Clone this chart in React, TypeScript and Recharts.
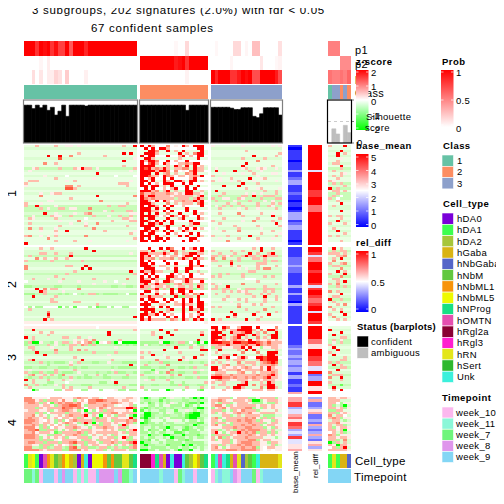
import React from 'react';
import { ScatterChart, Scatter, XAxis, YAxis, BarChart, Bar, Cell, ReferenceLine } from 'recharts';

// sample counts per subgroup (last one = ambiguous samples)
const groupSizes = [30, 18, 19, 6];

const probP1 = [
  [1, 1, 1, .8, 1, .95, 1, .8, .95, .75, .75, 1, .65, 1, 1, 1, .85, 1, 1, 1, 1, 1, 1, 1, 1, 1, 1, 1, 1, 1],
  [0, 0, 0, 0, 0, 0, 0, 0, 0, .03, 0, 0, .15, 0, 0, 0, 0, 0],
  [0, .03, 0, 0, 0, 0, .15, .15, 0, .04, 0, .25, .25, 0, 0, 0, 0, 0, .12],
  [.5, .5, .5, 0, 0, 0],
];
const probP2 = [
  [0, 0, 0, 0, .04, 0, .07, 0, 0, 0, 0, 0, 0, 0, 0, 0, 0, 0, 0, 0, 0, 0, 0, 0, 0, 0, 0, 0, 0, 0],
  [1, 1, 1, 1, 1, 1, 1, 1, 1, .9, .95, 1, .8, 1, 1, 1, 1, 1],
  [0, 0, 0, 0, 0, .04, 0, 0, 0, 0, 0, 0, 0, .1, 0, 0, 0, .03, .05],
  [0, 0, 0, .45, .45, .45],
];
const probP3 = [
  [0, 0, .13, 0, .1, 0, .07, .07, .17, .12, 0, .2, 0, 0, 0, 0, .06, 0, 0, 0, 0, 0, 0, 0, 0, 0, 0, 0, 0, 0],
  [0, 0, 0, 0, 0, 0, 0, 0, 0, 0, 0, 0, .05, 0, 0, 0, 0, 0],
  [1, .85, 1, 1, 1, .8, .8, .9, 1, .95, 1, .7, .7, 1, 1, 1, 1, .9, .7],
  [.55, .5, .5, .55, .5, .6],
];
const classLabels = [
  Array(30).fill(1),
  Array(18).fill(2),
  Array(19).fill(3),
  [1, 3, 3, 2, 3, 2],
];
const silhouette = [
  [.88, .88, .8, .88, .82, .88, .76, .83, .65, .74, .88, .62, .88, .88, .88, .88, .86, .88, .88, .88, .88, .88, .88, .88, .88, .88, .88, .88, .88, .88],
  [.88, .88, .88, .88, .88, .88, .88, .88, .88, .88, .88, .88, .76, .88, .88, .88, .88, .88],
  [.83, .83, .83, .83, .83, .81, .78, .78, .82, .82, .82, .62, .59, .68, .82, .82, .82, .82, .65],
  [0, .33, .21, 0, .41, .24],
];
const cellTypes = [
  ['hDA1', 'hRN', 'hNbML5', 'hDA1', 'hDA0', 'hOMTN', 'hNbML1', 'hRN', 'hNbM', 'hDA2', 'hNbML1', 'hNbML5', 'hGaba', 'hDA2', 'hDA0', 'hGaba', 'Unk', 'hDA0', 'hNbML5', 'hNbML5', 'hNbML5', 'hNbML1', 'hNbM', 'hNbML1', 'hNbM', 'hNbM', 'hRN', 'hRN', 'hNbM', 'hNProg'],
  ['hRgl2a', 'hRgl2a', 'hRgl2a', 'hRgl3', 'hNProg', 'hOMTN', 'hGaba', 'hDA0', 'Unk', 'hDA0', 'hDA0', 'Unk', 'hNbM', 'hDA2', 'hNbML5', 'hGaba', 'hNbM', 'hNProg'],
  ['hDA1', 'Unk', 'hOMTN', 'Unk', 'hNProg', 'hGaba', 'hOMTN', 'hRN', 'hNbGaba', 'hDA2', 'hNbM', 'hDA1', 'Unk', 'hGaba', 'hGaba', 'hGaba', 'hGaba', 'hGaba', 'hRN'],
  ['hDA1', 'hRN', 'hDA1', 'hGaba', 'hGaba', 'hNbGaba'],
];
const timepoints = [
  ['week_7', 'week_7', 'week_11', 'week_7', 'week_10', 'week_9', 'week_9', 'week_9', 'week_10', 'week_9', 'week_8', 'week_9', 'week_9', 'week_10', 'week_11', 'week_10', 'week_11', 'week_10', 'week_10', 'week_9', 'week_8', 'week_8', 'week_8', 'week_8', 'week_9', 'week_8', 'week_7', 'week_7', 'week_11', 'week_9'],
  ['week_9', 'week_9', 'week_9', 'week_9', 'week_9', 'week_11', 'week_9', 'week_9', 'week_9', 'week_10', 'week_7', 'week_11', 'week_9', 'week_9', 'week_10', 'week_9', 'week_9', 'week_9'],
  ['week_10', 'week_11', 'week_9', 'week_11', 'week_11', 'week_9', 'week_8', 'week_10', 'week_9', 'week_9', 'week_9', 'week_7', 'week_10', 'week_11', 'week_9', 'week_9', 'week_9', 'week_9', 'week_9'],
  ['week_9', 'week_9', 'week_9', 'week_9', 'week_9', 'week_9'],
];

// heatmap rows: first char = row base level, then one char per sample, _ = base, spaces ignored, rest of row = base
const heatC1G1 = [
  '. ___q_ ___q_ _pp_p _____ _____ _q__R',
  ',',
  '.',
  '. _____ _____ ____q _____ _____ _R_R_',
  '. _____ _R__R __s__ _____ _q___ ',
  ', _____ ____t _____ _____ _____ ____p',
  '. _____ _____ _____ _____ _____ _R___',
  '. _____ s__q_',
  '. _____ _____ _____ _____ _____ _q___',
  ': __pq_ ____q ___qp Rqq_p _____ ____q',
  ', _p___ _____ _____ _____ _____ ___p_',
  '. _____ _____ _____ ____R _____ _____',
  ', _____ p____ _w___ _____ ____w ____w',
  '. _____ ___q_ _____ ___p_ _____ _____',
  '. _qqq_ _____ _p_q_ _____ _____ ___p_',
  '. q____ _____ _____ _____ _____ qqq__',
  '. p____ _____ _ss_q _____ _____ __q__',
  ', _____ _____ _ttq_ _____ _____ _____',
  '.',
  ', ____p __pqq _____ _____ _____ _____',
  '. ____s _____ _____ ____R _____ ____s',
  '. _____ _____ __q__ _____ _____ _____',
  ', _____ _pp__ _____ _____ s____ _____',
  '. q___p _____ _____ _____ _____ __q__',
  ': q__R_ ___p_ _____ _____ __q__ qq___',
  ': ____q _p__q q_pp_ __s__ _____ _____',
  ': _____ _____ _____ _____ _p_q_ __qq_',
  ', _____ R__p_ ___p_ _qs__ _____ ___pp',
  ': __p__ __qpp __q__ ___q_ __p__ q__q_',
  ', _qp__ ___q_ _____ _w___ _____ _qqp_',
  '. _____ ____p ____s _____ ___q_ ___qq',
  ', _q___ _____ __p__ _p__s _____ _____',
  '. _____ ____q _____ _q___ _____ __q__',
  ', _s__q ___p_ _____ ___s_ _____ _____',
  '. ____p ___q_ _R___ _____ _q___ ____p',
  '. _____ ___p_ _____ _____ _____ ___q_',
  ', qs__p _p_q_ _____ _s___ _____ _____',
  '. _____ _s___ _____ _____ _____ ____q',
  '. _____ ___q_ ___q_ __p__ _____ __p__',
  'R ...... ..... ..... ..... ..... .....',
];
heatC1G1[39] = '. R____ _____ _____ ____';
const heatC1G2 = [
  'w R_Rq_ __s_p _Rq_R RR',
  'w _R_R_ RRq__ _____ RR',
  '. __RRs __R_q _R___ _R',
  '. _RRRq _____ R_q_s RR',
  'w R_RR_ __R__ qR_q_ RR',
  '. _RRq_ _____ q____ R_',
  'w RqRRs __R_q __R__ __',
  'w R_tRq _Rq__ qqsqR R_',
  '. RRRR_ __q_R q_R_R _q',
  ', RtRqs qRq_q qss_R qq',
  'w RRRRq RRs_s _p_sR qq',
  '. RRR_R _qs_q __sqR __',
  'w RRtqq _Rsq_ qq_qs qR',
  'w R_qR_ _R_R_ ___qR __',
  '. RR_R_ _Rq_R Rq_RR _q',
  'w R_R_q _RRR_ _R_R_ __',
  '. RR_RR _q_R_ __R__ R_',
  'w _R_R_ _q_qR __R_R __',
  ', RRRqs _qR_q __RR_ _q',
  ': tqqsq qqsqp qpRRq qp',
  ', RqRRq qqqpq qqqq_ qR',
  ': Rsqsq qqqq_ qqq_q Rq',
  'w RRq_R _Rq_q qsqqR qR',
  '. RRRq_ __s_q _qqq_ sR',
  'w R_RRq _R_R_ _q___ _R',
  '. RRR_R __R__ __R__ __',
  'w RRRqq _R_R_ __R_R __',
  '. R_R_R __s__ R___R _q',
  'w RRRRq _q_Rq _Rq__ R_',
  '. R_RR_ __R__ qR___ Rq',
  'w RRq_R _R_R_ ___R_ __',
  '. R_RRq R__R_ ___qR R_',
  ', RRRR_ _qR__ _R_q_ __',
  'w _RR_R __R__ q_R_R _q',
  '. RRqRq _R_R_ _Rq__ __',
  'w R_RR_ __R_q ___R_ R_',
  '. RRR_R _q___ R_R__ Rq',
  'w R_R_R R_R__ ___RR __',
  'w RR_RR _R___ _R_R_ q_',
  'w ___',
];
const heatC1G3 = [
  '. p____ ___p_ _____ _p_p',
  ',',
  '. _____ ____q _____ ____R',
  '. _____ _____ _____ ___qs',
  '. _____ _____ _R___ __q_',
  ', _____ ___q_ ____q ____',
  '. _____ _____ __s__ ____',
  '. _____ ____R _____ _____',
  '. _____ ___R_ _____ _q__',
  ', _p___ ___pq __pqp __p_',
  ', _R___ _R___ q__p_ _____',
  '. ___p_ ___p_ _q___ _pp_',
  ', q____ _____ __p__ _____',
  '. __p__ q____ R__pq _____',
  '. q_p__ p_q__ _p___ __p_',
  ', _____ ___R_ __q__ _____',
  '. ___R_ __R__ _____ _____',
  '. _____ ____q __pq_ ___p',
  ', _R___ _____ ____q __q_',
  ', ___q_ ____p _p_p_ __q_',
  ': __q__ ___qq _R__q qq__',
  ': q__pp __qp_ ___q_ __qq',
  ': _q___ _p___ q___p _p__',
  ', ____q __q__ __q__ _q_q',
  ': _p_q_ q__q_ __q__ qp__',
  ', __q__ __p_q __p__ __q_',
  '. _____ _____ _____ ____',
  '. __q__ __s__ ___q_ _p__',
  ', _____ ___q_ _____ _R__',
  '. ___q_ _____ __q__ ___q',
  ', q____ ___p_ _s___ _q__',
  '. __q__ _____ _____ __R_',
  '. _____ _q___ __q__ ___q',
  ', _p___ __q__ ___p_ ___',
  '. ___q_ __s__ _____ _q__',
  '. _____ _____ ___q_ ___p',
  ', q___q _____ R____ __q_',
  '. __p__ __q__ __q__ _p__',
  '. ____s _____ __p__ ____',
  'w ___',
];
const heatC1A = [
  '. q___R',
  '. ___',
  ', ___R_',
  '. __R_q',
  ', __R__',
  '. ___p_',
  '. __q__',
  ', _qq__',
  '. ___R_',
  ': ___q_',
  ', _q___',
  '. ___qp',
  ', _q_q_',
  '. __q__',
  '. qp___',
  ': _q_q_',
  ', ____q',
  ': R_q__',
  '. _qq_q',
  ': __q__',
  ': _q_w_',
  ': q_w__',
  ', __q__',
  '. ___R_',
  ', _q___',
  ', _____',
  '. ___R_',
  '. ____',
  ', q_qq_',
  '. ___q_',
  ', __R__',
  '. q___q',
  ', _____',
  '. _q___',
  ', __R__',
  '. ____q',
  ', q_q__',
  '. _____',
  '. ___q_',
  'w ___',
];

const heatC2G1 = [
  '. ____q __q__ _____ _R___',
  ', _____ _____ _____ ___R_ ',
  ', ____q q__q_ __q__ _____ _____ ___p',
  ': _q___ _____ __R__ _____ _____ ',
  '. ___s_ q__q_ _q___ _____ _____ ____',
  ': q____ __q__ _____ q____ ',
  ', _____ _____ _____ _____ ',
  ', s____ _____ _qq__ _R___ _____ ',
  '. s____ _____ _____ R_R__ ',
  ', _____ _____ ___q_ _____ _____ ___R_',
  ': _____ _____ _q___ _____ _____ ____q',
  ', _____ ___q_ _____ _____ ___',
  ', __q__ _p___ q____ ___q_ _____ __s__',
  ', w____ ____p ____p _____ _p__w',
  ', _____ _____ _____ ___p_ _____ _p__',
  ': ;;___ ___;; ____; _____ ___;; __;;_',
  '. ___R_ s_qq_ ____s _____ _____ ',
  ', ____R q____ p____ _____ _____ ',
  ': ;;;__ q___; _;_w_ ;_qq; _;;;; __w;;',
  ', __R__ ___q_ _____ _____ _____ ',
  ', _____ __q__ _____ _____ _____ _____',
  '. _____ __qq_ ___qq _____ _____ ',
  ', _____ _____ _____ ____q',
  'w _;_;; ____g _;_g_ __;_g ;;_;_ _;;__',
  ', _q___ _____ _____ _____ _____',
  ', _____ _s___ _____ ',
  ', _____ _R___ _____ ',
  '. _____ _s___ _____ _____ _____ ____R',
  ', _____ R_q__ _____ _____ ',
  'p ',
];
const heatC2G2 = [
  'w __R__ R_Rs_ _R_qR _R',
  ', qq_R_ _q_Rs _q___ qR',
  '. RRqqq qRq_s _qqRR qq',
  'w RqR_q _q_qq _qRR_ R_',
  ', Rqqs_ qqqs_ qRq_R qq',
  'w R_R__ _R___ ___R_ R_',
  'w RR_R_ __R_R ___R_ R_',
  '. RRRq_ qq__q ___Rq qR',
  'w _RRR_ __q_R __RR_ __',
  ', RqqRq q___R __R__ q_',
  'w _R_R_ ___R_ q__R_ _q',
  'w R_R_R __RRq _q_R_ __',
  ', RqqRq __R_q qqRqq qq',
  'w RRR_q _RRq_ _qRq_ _R',
  ': qR_qR qq;_q s_qq_ qq',
  ', Rqqpq qpq_p qq_q_ Rq',
  ': qq;qR _q_R_ RRqq; _q',
  'w _RR_q ___R_ RR_R_ __',
  '. R___R _q_Rq _Rq_s qR',
  ', qqRqq q___R ;;qq_ R_',
  'w R_RR_ _R_R_ _R_R_ R_',
  'w _R_RR __R_q _R_R_ RR',
  '. RRR__ qq__q qRqq_ RR',
  'w _R_q_ R_R__ _R_R_ RR',
  ', RRRR_ __qR_ _R_Rq qR',
  '. _R_R_ R_q__ _R___ R_',
  'w RRqqR _R_q_ _R_q_ qR',
  'w R_R__ __R_R _R_q_ R_',
  ', RqRqq qq_sq _Rq_R qR',
  'p wwwww wwwww wwwww ww',
];
const heatC2G3 = [
  '. _____ _____ _q_R_ _q',
  ', q____ q__q_ ___R_ ___',
  ', __q__ _q___ R_q__ qR_',
  ': qq_qp q__qR qq_qR qqq',
  ', s__s_ __q__ _qq_q ___',
  ': qq___ s_q__ ____q _qq',
  ', _____ R____ __qqq ___',
  '. __q__ q_q__ __q__ __q',
  ', _____ __p_p __q_s s__',
  ', _____ _____ qq___ ___',
  ': __q_q ___q_ _____ ___',
  ', q_q__ ___q_ ____q _q_',
  ', _____ ____w ww___ ___',
  '. _____ _____ __q__ ___',
  ', q_p__ ___s_ _____ __q',
  ', _q__R _____ ____q ___',
  ': qq_qq __p_q qq__q qq_',
  ', ___q_ q_qpq ____q _q_',
  ', _q___ ____q q__q_ q__',
  ', ____q _____ _q__R __q',
  '. ___q_ __q_q ____q __q',
  ', _____ p___q ____q ___',
  '. _____ __q__ _q_q_ ___',
  ', q_q__ __s__ _____ _q_',
  ', _____ ____q ____s ___',
  ', _____ R____ __q__ __q',
  '. _____ _R___ _R___ R__',
  '. ____R _q___ ___q_ ___',
  ', R_q__ ____R __q__ ___',
  'p ',
];
const heatC2A = [
  '. _R_q_', ': _q_qq', ', qqq_q', '. __qqs', ', _q_R_', '. _s___', ', q__qs', ': _qq__', ', ___s_', '. __R_q',
  ', q___R', ': ___s_', '. _qq__', ', __q_R', ', q_s__', ': __q_q', ', _____', ', s_q__', '. ___R_', ', _qq__',
  ': R__q_', ', _q___', '. __q_s', ', s____', '. _q_q_', ', ___R_', '. q___R', ', _s___', '. __q_q', 'w ___',
];

const heatC3G1 = [
  'p _____ _____ _____ ____w',
  ', __R__ _____ _____ _____ _____ ____q',
  '. ____q __q__ _____ _____ __R__ ',
  ', _____ _q___ _____ _____ __R__ ',
  ', R_q__ _____ qq__q __p__ _____ ',
  ', __q__ _____ ___p_ pq_s_ _____ q',
  ': ;qGGp __;p_ qq_pq wqs;G pwq;G wGGGG',
  ': ;__;_ _q_p_ ;_qq_ sq;q_ ____; ;_;_;',
  ', _qq__ __p__ __q__ _____ ____p ',
  ', __q__ ___s_ __q_s _q___ _____ ',
  ': ___R_ ___q_ _____ ___q_ ____q ___',
  ', _____ R____ _____ _____ __p__ ',
  '. _____ _____ ___q_ _____ _____ ',
  ', _qR__ _____ _____ R____ ___q_ ',
  ': ____q _;_;; ;_p_q ___;; __p__ _;;;;',
  ', _____ _;___ __q__ _____ _____ ___R_',
  ': ;;__; ;___; ;;_;_ ;;___ ___;_ ;;;;;',
  ', _p___ ___q_ ___q_ _____ ___p_ _____',
  ': q_;;q _;;q_ ;;;_p ____; __;_q ;;__;',
  ', _qs__ q_q_; s____ _;__q _;___ __q__',
  ': _;__q _;__; __q_; _;;__ _;;__ _;;__',
  ', R_q__ _q___ q_p__ _____ ___p_ _____',
  ', __q__ _;;__ _w___ _____ ;;__R ',
  ': s__q_ ;__p_ q____ ;;;__ ____; ___;;',
  ', _q___ _____ q_q__ __q__ _____ _q___',
  'w __G;_ ___;; _qq__ ;;__w ;___p ;;_;;',
  'w ',
];
const heatC3G2 = [
  'w _____ _____ ___',
  ', _____ R___s _____ ___',
  '. ___q_ __R__ _____ _q_',
  ', ___q_ ___R_ _____ _R',
  ', _____ R____ _____ ___',
  ', _____ _____ _____ R__',
  ': ;;;;; pGG;_ qq;w; GpG',
  ': ;p;__ ;_q__ ;;_;p ;;_',
  ', _____ ____R ___q_ _q_',
  '. _____ _R___ _____ _RR',
  ', q_q__ _____ q____ ___',
  ', ___R_ _p___ _____ _s_',
  '. q____ __q__ _q__R ___',
  ', ____s _____ R_p__ ___',
  ': __;__ q;;__ ___;_ _;_',
  ', _q___ __s__ _____ __q',
  ': ;;;__ ;;___ ;;_;q ___',
  ', ___g_ ___s_ _____ _p_',
  ': _;;_p ;_s;_ ;;__q ;__',
  ', q____ ___q_ s____ ___',
  ': __;;_ ;;_;_ __;;_ q;;',
  ', _p_q_ __q__ _____ ___',
  ', _____ ___;_ _;___ __q',
  ': ;__;; ___;; q;;__ ;;_',
  ', q____ _____ __q__ _q_',
  'w _;_;; __G;_ _;___ ;g_',
  'w ',
];
const heatC3G3 = [
  'w RR_Rs __qRR R_R__ __s',
  '. qR_s_ qqRRR Rq_s_ RRq',
  ', RRR__ RqqsR R_q_s __R',
  ', RR_R_ _qRRq _Rq__ qRR',
  ', RRRq_ qsR_q __s_q _RR',
  'p Rt_q_ qsqq_ R_q__ q_q',
  'q RRRtt qRRtt RRtsq tqq',
  'p qqssR qqqst qqRsq sqq',
  'p ;qq_p _qqR_ R__;_ _qq',
  ', __R__ __q_R _R___ __q',
  '. _q___ ___s_ __s__ RRR',
  ', ___qq _R___ ___q_ RRq',
  'w __RqR __qRq __RRt RRR',
  ', _q__q _qqq_ __qRt RRR',
  ', q_q_p __s_q qq_qs tRt',
  ', ___qs __qq_ _q_qq qsq',
  'p RR_q_ _q_qs q_ps_ Rq_',
  'p RRq_q qqs_q qqqs_ Rqq',
  '. _qqq_ __qs_ _q_qq qsq',
  'p qssqq sqqqq qqsqq sRq',
  'p RRRss qsqqs qsqqs Rqq',
  'p _qsqq __qqq _qq_q qq_',
  ', q__q_ ___qR ___q_ Rq_',
  ', __qq_ __RRR _s_qq RR_',
  ', q___q _RRq_ ___s_ RRq',
  'w ___q_ _qq__ _qqq_ qq_',
  'w ',
];
const heatC3A = [
  '. ___', ', R____', '. ___R_', ', _R___', ', ___qq', ': _q_p_', ': _p_q_', ', q____', '. _R___',
  ', __R__', ', q_p__', '. _R___', ', ____q', ', ___qq', ': q_q__', ', _R_q_', ': ___qq', '. __R__',
  ', s____', ': _qqq_', ', s__R_', ', ___q_', ', q____', ': ___g_', ', _R___', 'w _q_R_', 'w ',
];

const heatC4G1 = [
  'p ss__p _wqqq pp_qs qqpqq .wqq_ _pqq_',
  'p sss_q ;qqq_ s__;p qwsst tsqqq pqq__',
  'p qssq; qwgqs qssqs __ssq qqqss qp_qw',
  'p qqqq_ qq_;q sstts _;qqq qsqq. w_pq;',
  'q qq_;q p__qq tssqs qw_qp sqp_q qqRRs',
  'p pqqq_ _q;pq ssqp; _Gp;w q;qq_ p_q_G',
  'q qqq;_ ;wq_q q;_qq pq;_q ;qqss pqq__',
  '. qqs_q p;_pq _qsqq qR_q_ Gpq_; qq_;G',
  'p qsqq_ q;pqw qq_q; qp_;s ;qpqq ___R;',
  'q sss_p wqp;q ;wqsq __q;_ qqp;_ _qsqs',
  'p ssqqp qq_;p qsq_; qRqG_ ;qqpq __sq;',
  '. qqsq; q_qwq _;qq_ _;_qq ;qq_p ;Rqp_',
  'p sss_; q;wqp _qqsq p_;_q qsqq_ qq;pp',
  'p qsst; ;qq;_ ;_q;_ qqq_p _q_qp ;;_qR',
  'q qqsp_ qqpg; qq_qs _;qp_ qqqq_ pq;_q',
  '. sssq_ p;;qq _qqsq ;;_q_ _q_;q ___qq',
  'p sssq; _q_qp q;_pq qq;_p q_qq; _Rq;_',
  'p qqqq; q;;_w qqqq_ ;qq_; qqqpq _p;;q',
  'q qssq_ ;_qq; _qst_ _;qqp ;_qsq ;_qsR',
  'p qq_p; qq;pq wpq;_ q;_qq p_qp; pq_;s',
  ': ss__; q;_qq _;st_ qq;;_ qq;_q _;;qs',
  'p ssssq _qqqq ;;sss _q__q q;_;q qq_;;',
];
const heatC4G2 = [
  ', ;G;__ ;g_p_ _;_;G ;G',
  ': _;;__ g_;__ _;;__ ;_',
  ', ;_g;_ ;_;p_ ;_;gg ;G',
  '. __;;_ ;_p;; ;_g;_ ;_',
  ': ;g;_; _;_;_ _;;_; GG',
  ', g_;__ ;;__g __p_; _;',
  ', _GG;; _;p_; ;_;gG G;',
  ': ;GG;_ _;;__ ;_gGG G_',
  ', gG;;_ ;_p;; ;;gGG ;;',
  '. _g;__ _;__p _;_;; _;',
  ', Gg;;_ ;_;;_ __;;; gg',
  ': ;;_;; ;__;; ;;;_G ;_',
  ', ;__;_ ;;G;_ _;g;_ ;;',
  '. ;_g;; _g_;; _gg;; _;',
  ', ;;_;_ ;;__g g;_;; ;_',
  ': __G;; _GG;_ _G;;; g;',
  ', ;_;;_ _;_G; ;;_;_ ;;',
  '. ;;g_; __;;_ ;;g;_ __',
  ', G;;__ ;_;;; ;_;;; ;;',
  ': ;G;;_ __g;; ;G;G_ ;;',
  ', ;;_;; ;;_;; _;;_; _;',
  '. GG;;_ ;;;_; G;;G_ _;',
];
const heatC4G3 = [
  'p __qqq ;wqqq ;;_qq qq;',
  'p qqsq_ _qqq_ qGG;p qqq',
  '. q_;qq ;_qqq _;;;_ ;;q',
  'p qss_; q_qqq qq_qq _qp',
  'p ;_qs_ qqqqs s;_;q pq_',
  '. qqq;_ ;qpsq qq;_p __q',
  'p q;_qp _qsqq s__qq qqp',
  ', ___qq ;_q_q qqq_; ;;_',
  'p qs;_q qqqqs qs_;q ;q_',
  'p qq_;q qqsqs sq;qp _;q',
  '. q;qq_ ;qqqq sqqq; _qq',
  'p qs_;q ;qqsq qsq;_ qq_',
  'p ___qq qsqqs sqqq; _;q',
  ', qq;_q _;qsq sssqq _q_',
  'p qR_;_ qqRqs qs;qq ;q;',
  'p ;qqq; q_qqq sq_qq _q_',
  '. q_s;q _qqqs qqqq_ p_;',
  'p q;_qq ;_qqq ss;_q qp_',
  'p ___qq ;_qss sqq_p ;qq',
  ', qq;q_ qqsqs sqqpp _q;',
  'p qs_;_ qqqsq qs;pw qq_',
  'p qqqqs ssqss ssqpw _wp',
];
const heatC4A = [
  'p qq_qq_', ', qqq__', 'p qqw;_', ', q;_;G', 'p qq_q;', '. ;;qq_', 'p qq;_q', ', s_qqw', 'p qsq;_', ', _qq_;',
  'p qqs__', ', q_qq;', 'p q;_qq', 'p qq_qG', ', wq_q;', 'p sq;__', 'p qq_qq', ', qq;_s', ', G;q_q', 'p q_Gqq', ', wq;qR', 'p qqqqq',
];

// per row, digit 0..9 scales to the legend range
const baseMean = [
  '1011110111311233111211011013331233111101',
  '111122232211111311311031111111',
  '111111112322323323313311211 6'.replace(' ', ''),
  '6688344675887343844556',
];
const relDiff = [
  '9999999999499999998889997779999999999999',
  '998477999899998489987789949998',
  '999997755999887744923399559',
  '3622356223263236325635',
];

const levelColors: Record<string, string> = {
  '.': '#e9ffe2', ',': '#dcfdd2', ':': '#c8fcb8', ';': '#aefb98', g: '#6cff55', G: '#00ff00',
  w: '#ffffff', p: '#ffeee9', q: '#ffbcab', s: '#ff8d74', t: '#ff5a3c', R: '#ff0000',
};
const classColors: Record<number, string> = { 1: '#66c2a5', 2: '#fc8d62', 3: '#8da0cb' };
const cellTypeNames = ['hDA0', 'hDA1', 'hDA2', 'hGaba', 'hNbGaba', 'hNbM', 'hNbML1', 'hNbML5', 'hNProg', 'hOMTN', 'hRgl2a', 'hRgl3', 'hRN', 'hSert', 'Unk'];
const cellTypeHex = ['#7a00d9', '#3dff4f', '#a6c63a', '#d9b414', '#5566c8', '#62c840', '#f7940a', '#eefa00', '#17e084', '#e54fb0', '#8a0033', '#ff1fcf', '#e3e61a', '#2eb82e', '#3cf0dc'];
const weekNames = ['week_10', 'week_11', 'week_7', 'week_8', 'week_9'];
const weekHex = ['#fbb8ee', '#8bf7d8', '#6ff57c', '#df96ec', '#83d6f5'];

const groupX = [[24, 113], [140, 68], [211, 71], [328, 23]];
const clusterY = [[145, 99.5], [247, 76.5], [326, 68], [397, 54]];
const heatPanels = [
  [heatC1G1, heatC1G2, heatC1G3, heatC1A],
  [heatC2G1, heatC2G2, heatC2G3, heatC2A],
  [heatC3G1, heatC3G2, heatC3G3, heatC3A],
  [heatC4G1, heatC4G2, heatC4G3, heatC4A],
];

const mix = (a: number[], b: number[], t: number) =>
  `rgb(${a.map((v, i) => Math.round(v + (b[i] - v) * t)).join(',')})`;
const probColor = (v: number) => mix([255, 255, 255], [255, 0, 0], v);
const blueRed = (v: number) => (v < .5 ? mix([0, 0, 255], [255, 255, 255], v * 2) : mix([255, 255, 255], [255, 0, 0], v * 2 - 1));

function decodeRows(rows: string[], n: number) {
  return rows.map((row) => {
    const clean = row.replace(/ /g, '');
    const base = clean[0];
    const out: string[] = [];
    for (let i = 0; i < n; i++) {
      const c = clean[i + 1];
      out.push(levelColors[!c || c === '_' ? base : c] || levelColors[base] || '#fff');
    }
    return out;
  });
}

// one block of cells, drawn as scatter points on col/row axes
function Grid({ x, y, w, h, fills }: { x: number; y: number; w: number; h: number; fills: string[][] }) {
  const nRows = fills.length;
  const nCols = fills[0].length;
  const cw = w / nCols;
  const ch = h / nRows;
  const data = fills.flatMap((row, r) => row.map((fill, c) => ({ col: c + .5, row: r + .5, fill })));
  return (
    <div style={{ position: 'absolute', left: x, top: y }}>
      <ScatterChart width={w} height={h} margin={{ top: 0, right: 0, bottom: 0, left: 0 }}>
        <XAxis type="number" dataKey="col" domain={[0, nCols]} hide />
        <YAxis type="number" dataKey="row" domain={[0, nRows]} reversed hide />
        <Scatter
          data={data}
          isAnimationActive={false}
          shape={(p: any) => (
            <rect x={p.cx - cw / 2} y={p.cy - ch / 2} width={cw + .4} height={ch + .4} fill={p.payload.fill} shapeRendering="crispEdges" />
          )}
        />
      </ScatterChart>
    </div>
  );
}

function SilBars({ x, w, values, ambiguous }: { x: number; w: number; values: number[]; ambiguous: boolean }) {
  const data = values.map((v, i) => ({ i, v }));
  const fill = ambiguous ? '#bebebe' : '#000000';
  return (
    <div style={{ position: 'absolute', left: x, top: 100 }}>
      <BarChart width={w} height={43} data={data} margin={{ top: 0, right: 0, bottom: 0, left: 0 }} barCategoryGap={0}>
        <XAxis dataKey="i" hide />
        <YAxis domain={[0, 1]} hide />
        {ambiguous && <ReferenceLine y={.5} stroke="#cccccc" strokeDasharray="3 3" />}
        <Bar dataKey="v" isAnimationActive={false} fill={fill} stroke={fill} strokeWidth={.6}>
          {data.map((d) => <Cell key={d.i} fill={fill} stroke={d.v > 0 ? fill : 'none'} />)}
        </Bar>
      </BarChart>
    </div>
  );
}

const FONT = '"Liberation Sans", Arial, sans-serif';

function T({ x, y, children, size = 9.5, bold, rot, sp = .3 }: any) {
  return (
    <text x={x} y={y} fontSize={size} fontWeight={bold ? 'bold' : 'normal'} fontFamily={FONT} fill="#000" letterSpacing={sp}
      transform={rot ? `rotate(${rot} ${x} ${y})` : undefined}>{children}</text>
  );
}

function Swatches({ x, y, colors, step }: { x: number; y: number; colors: string[]; step: number }) {
  return (
    <>
      {colors.map((c, i) => (
        <rect key={c} x={x} y={y + i * step} width={11.5} height={step} fill={c} stroke="#fff" strokeWidth={.6} />
      ))}
    </>
  );
}

// little white dashes on both edges of a colour bar
function BarTicks({ x, ys }: { x: number; ys: number[] }) {
  return (
    <path d={ys.map((y) => `M${x} ${y}h2.5M${x + 10} ${y}h2.5`).join('')} stroke="#fff" strokeWidth={.7} fill="none" />
  );
}

function Legends() {
  return (
    <svg width={504} height={504} style={{ position: 'absolute', left: 0, top: 0 }}>
      <defs>
        <linearGradient id="zs" x1="0" y1="0" x2="0" y2="1">
          <stop offset="0" stopColor="#ff0000" /><stop offset=".5" stopColor="#ffffff" /><stop offset="1" stopColor="#00ff00" />
        </linearGradient>
        <linearGradient id="bm" x1="0" y1="0" x2="0" y2="1">
          <stop offset="0" stopColor="#ff0000" /><stop offset=".5" stopColor="#ffffff" /><stop offset="1" stopColor="#0000ff" />
        </linearGradient>
        <linearGradient id="pr" x1="0" y1="0" x2="0" y2="1">
          <stop offset="0" stopColor="#ff0000" /><stop offset="1" stopColor="#ffffff" />
        </linearGradient>
      </defs>
      {/* track labels sit under the colour bars, like in the original */}
      <T x={355} y={54} size={11}>p1</T>
      <T x={355} y={68} size={11}>p2</T>
      <T x={355} y={82} size={11}>p3</T>
      <T x={355} y={97} size={11}>Class</T>
      <rect x={356} y={70} width={12.5} height={60} fill="url(#zs)" />
      <BarTicks x={356} ys={[72, 86, 100, 114, 128]} />
      <T x={356} y={65} bold sp={.45}>z-score</T>
      {['2', '1', '0', '-1', '-2'].map((t, i) => <T key={t} x={371} y={76 + i * 14.3}>{t}</T>)}
      <T x={366} y={120}>Silhouette</T>
      <T x={365} y={131}>score</T>
      <T x={357} y={146}>0</T>
      <T x={356} y={149} bold sp={.45}>base_mean</T>
      <rect x={356} y={154} width={12.5} height={73} fill="url(#bm)" />
      <BarTicks x={356} ys={[157, 170.5, 184, 197.5, 211, 224.5]} />
      {['5', '4', '3', '2', '1', '0'].map((t, i) => <T key={t} x={371} y={161 + i * 13.5}>{t}</T>)}
      <T x={356} y={246} bold sp={.45}>rel_diff</T>
      <rect x={356} y={251} width={12.5} height={61} fill="url(#bm)" />
      <BarTicks x={356} ys={[254, 281.5, 309]} />
      <T x={371} y={258}>1</T>
      <T x={371} y={285.5}>0.5</T>
      <T x={371} y={313}>0</T>
      <T x={357} y={330} bold sp={.2}>Status (barplots)</T>
      <Swatches x={357} y={336} colors={['#000000', '#bebebe']} step={11.2} />
      <T x={371} y={345}>confident</T>
      <T x={371} y={356}>ambiguous</T>

      <T x={442} y={65} bold sp={.45}>Prob</T>
      <rect x={441} y={70} width={12.5} height={57} fill="url(#pr)" />
      <BarTicks x={441} ys={[72, 100, 125]} />
      <T x={456} y={76}>1</T>
      <T x={456} y={104}>0.5</T>
      <T x={456} y={132}>0</T>
      <T x={443} y={149} bold sp={.45}>Class</T>
      <Swatches x={442} y={155} colors={[classColors[1], classColors[2], classColors[3]]} step={11.3} />
      {['1', '2', '3'].map((t, i) => <T key={t} x={457} y={164 + i * 11.3}>{t}</T>)}
      <T x={443} y={207} bold sp={.45}>Cell_type</T>
      <Swatches x={442} y={213} colors={cellTypeHex} step={11.3} />
      {cellTypeNames.map((t, i) => <T key={t} x={457} y={222 + i * 11.3}>{t}</T>)}
      <T x={442} y={401} bold sp={.45}>Timepoint</T>
      <Swatches x={442} y={407} colors={weekHex} step={11.1} />
      {weekNames.map((t, i) => <T key={t} x={456} y={416 + i * 11.1}>{t}</T>)}

      <T x={355} y={465} size={11.5} sp={.3}>Cell_type</T>
      <T x={354} y={481} size={11.5} sp={.3}>Timepoint</T>
      <T x={298} y={493} size={8} rot={-90} sp={0}>base_mean</T>
      <T x={318} y={478} size={8} rot={-90} sp={0}>rel_diff</T>

      <T x={32} y={14} size={11.5} sp={.7}>3 subgroups, 202 signatures (2.0%) with fdr &lt; 0.05</T>
      <T x={91} y={32} size={11.5} sp={.7}>67 confident samples</T>
      {[['1', 197], ['2', 288], ['3', 361], ['4', 426]].map(([t, y]) => (
        <T key={t as string} x={15.5} y={y} size={12.5} rot={-90}>{t}</T>
      ))}

      {groupX.map(([x, w], i) => (
        <rect key={x} x={x - .5} y={100} width={w + 1} height={43} fill="none" stroke={i === 3 ? '#000' : '#7f7f7f'} strokeWidth={1.2} />
      ))}
      <path d="M352 100h2M352 121.5h2M352 143h2" stroke="#555" strokeWidth={.8} />
    </svg>
  );
}

export default function App() {
  return (
    <div style={{ position: 'relative', width: 504, height: 504, margin: -8, background: '#fff', overflow: 'hidden' }}>
      {groupX.map(([x, w], g) => (
        <React.Fragment key={x}>
          <Grid x={x} y={41} w={w} h={14.5} fills={[probP1[g].map(probColor)]} />
          <Grid x={x} y={55.5} w={w} h={14.5} fills={[probP2[g].map(probColor)]} />
          <Grid x={x} y={70} w={w} h={14} fills={[probP3[g].map(probColor)]} />
          <Grid x={x} y={85} w={w} h={14} fills={[classLabels[g].map((c: number) => classColors[c])]} />
          <SilBars x={x} w={w} values={silhouette[g]} ambiguous={g === 3} />
          <Grid x={x} y={454} w={w} h={14} fills={[cellTypes[g].map((c) => cellTypeHex[cellTypeNames.indexOf(c)])]} />
          <Grid x={x} y={469} w={w} h={14} fills={[timepoints[g].map((c) => weekHex[weekNames.indexOf(c)])]} />
          {clusterY.map(([y, h], k) => (
            <Grid key={y} x={x} y={y} w={w} h={h} fills={decodeRows(heatPanels[k][g], groupSizes[g])} />
          ))}
        </React.Fragment>
      ))}
      {clusterY.map(([y, h], k) => (
        <React.Fragment key={y}>
          <Grid x={288} y={y} w={14} h={h} fills={baseMean[k].split('').map((d) => [blueRed(Number(d) / 9)])} />
          <Grid x={308} y={y} w={14} h={h} fills={relDiff[k].split('').map((d) => [blueRed(Number(d) / 9)])} />
        </React.Fragment>
      ))}
      <Legends />
    </div>
  );
}
